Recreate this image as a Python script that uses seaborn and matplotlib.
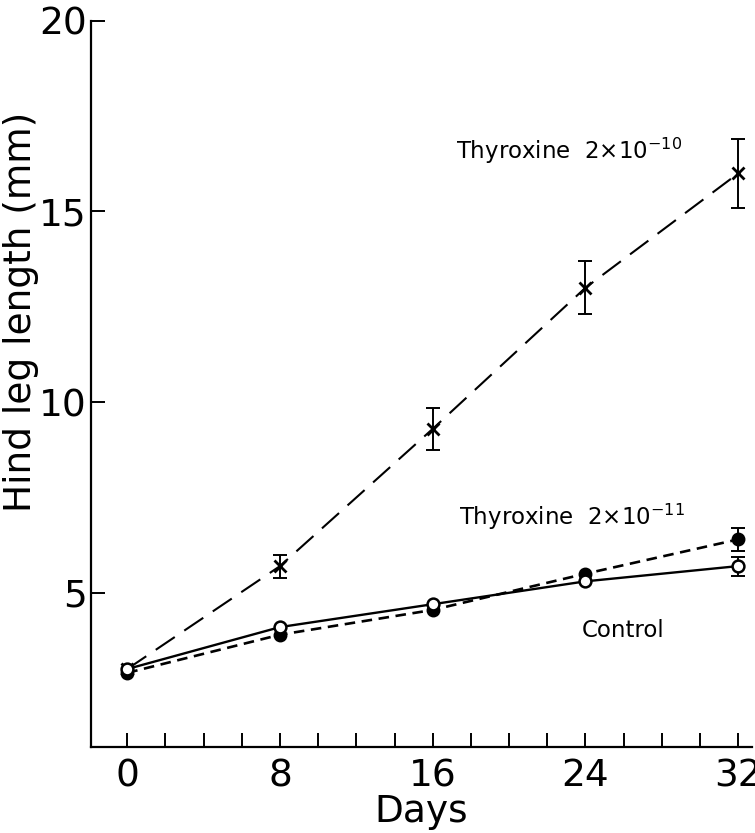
import numpy as np
import pandas as pd
import matplotlib
matplotlib.use("Agg")
import matplotlib.pyplot as plt
from matplotlib.ticker import MultipleLocator
import seaborn as sns

days = [0, 8, 16, 24, 32]
control = [3.0, 4.1, 4.7, 5.3, 5.7]
control_err = [0, 0, 0, 0, 0.25]
thy11 = [2.9, 3.9, 4.55, 5.5, 6.4]
thy11_err = [0, 0, 0, 0, 0.3]
thy10 = [3.0, 5.7, 9.3, 13.0, 16.0]
thy10_err = [0, 0.3, 0.55, 0.7, 0.9]

x_ticks = [0, 8, 16, 24, 32]
y_ticks = [5, 10, 15, 20]

sns.set_style("ticks")
plt.rcParams['font.family'] = ['DejaVu Sans']
plt.rcParams['text.color'] = 'black'

fig = plt.figure(figsize=(7.55, 8.33), dpi=100)
ax = fig.add_axes([0.1205, 0.103, 0.875, 0.872])

df = pd.DataFrame({
    "day": days * 3,
    "length": control + thy11 + thy10,
    "err": control_err + thy11_err + thy10_err,
    "group": ["Control"] * 5 + ["T11"] * 5 + ["T10"] * 5,
})

styles = {
    "T10": dict(ls=(0, (11, 5.5)), marker="x", mfc="black", lw=1.5, ms=8, mew=2.0),
    "T11": dict(ls=(0, (4, 2.5)), marker="o", mfc="black", lw=1.9, ms=8.5, mew=1.5),
    "Control": dict(ls="-", marker="o", mfc="white", lw=1.7, ms=8.5, mew=1.8),
}

for g in ["T10", "T11", "Control"]:
    sub = df[df.group == g]
    st = styles[g]
    sns.lineplot(data=sub, x="day", y="length", ax=ax, color="black",
                 linestyle=st["ls"], lw=st["lw"], marker=st["marker"],
                 markerfacecolor=st["mfc"], markeredgecolor="black",
                 markersize=st["ms"], markeredgewidth=st["mew"], legend=False,
                 zorder=3)
    m = sub.err > 0
    ax.errorbar(sub.day[m], sub.length[m], yerr=sub.err[m], fmt="none",
                ecolor="black", elinewidth=1.4, capsize=5, capthick=1.4, zorder=2)

ax.set_xlim(-1.9, 32.7)
ax.set_ylim(0.95, 20)
ax.set_xticks(x_ticks)
ax.xaxis.set_minor_locator(MultipleLocator(2))
ax.set_yticks(y_ticks)
ax.tick_params(axis="both", which="both", direction="in", length=10, width=1.4,
               labelsize=27, color="black", labelcolor="black")
ax.tick_params(axis="x", pad=8)
ax.tick_params(axis="y", pad=3)
for s in ["top", "right"]:
    ax.spines[s].set_visible(False)
for s in ["left", "bottom"]:
    ax.spines[s].set_linewidth(1.6)
    ax.spines[s].set_color("black")

ax.set_xlabel("Days", fontsize=27, labelpad=0, color="black")
ax.set_ylabel("Hind leg length (mm)", fontsize=27, color="black")
ax.yaxis.set_label_coords(-0.078, 0.6)

ax.text(17.2, 16.6, r"Thyroxine  2$\times$10$^{-10}$", fontsize=16.5, ha="left", va="center", color="black")
ax.text(17.4, 7.0, r"Thyroxine  2$\times$10$^{-11}$", fontsize=16.5, ha="left", va="center", color="black")
ax.text(23.8, 4.0, "Control", fontsize=16.5, ha="left", va="center", color="black")

fig.savefig("out.png", dpi=100)
